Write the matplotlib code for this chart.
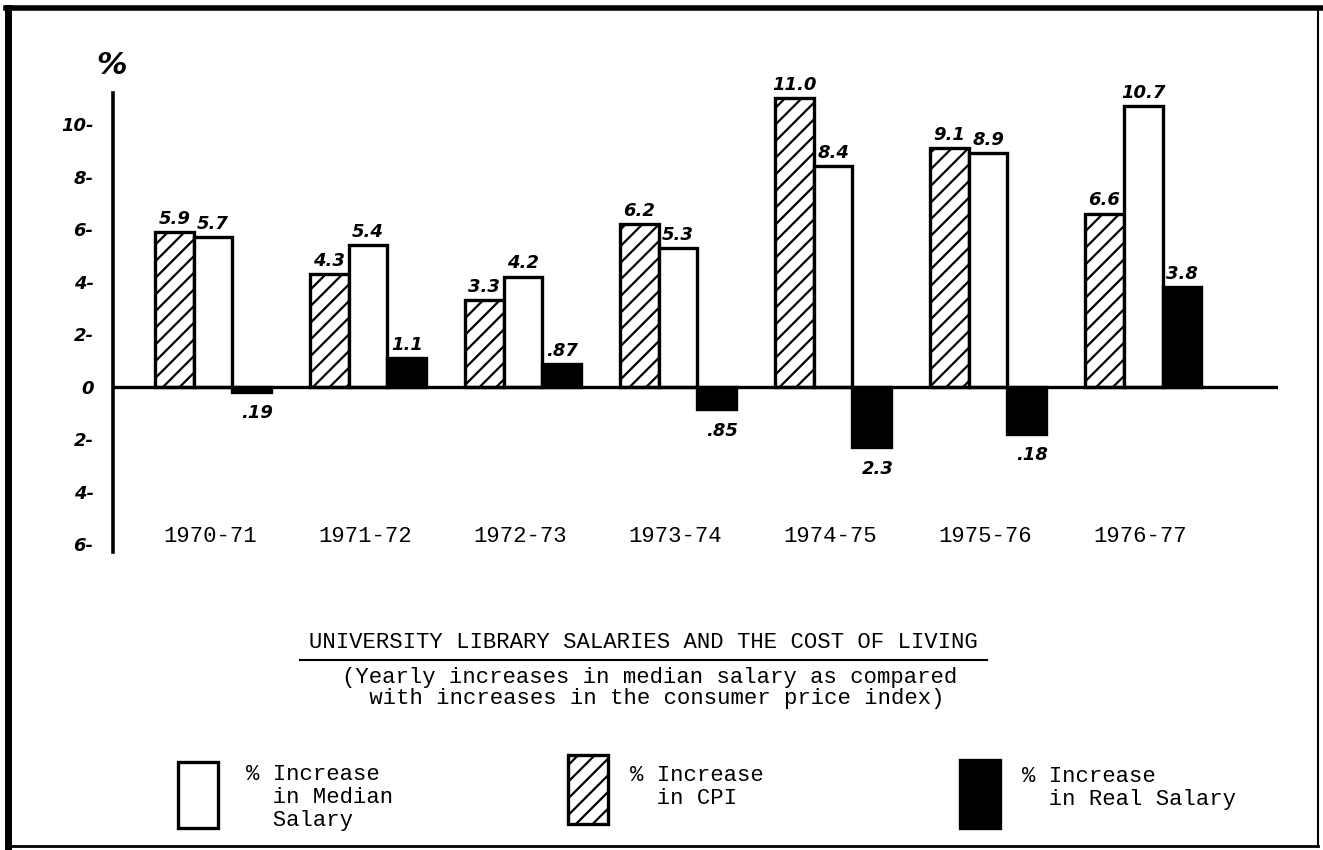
import matplotlib
matplotlib.use("Agg")
import matplotlib.pyplot as plt
from matplotlib.patches import Rectangle
from matplotlib.lines import Line2D
import numpy as np

## Data
years = ["1970-71", "1971-72", "1972-73", "1973-74", "1974-75", "1975-76", "1976-77"]
cpi = [5.9, 4.3, 3.3, 6.2, 11.0, 9.1, 6.6]
median_salary = [5.7, 5.4, 4.2, 5.3, 8.4, 8.9, 10.7]
real_salary = [-0.19, 1.1, 0.87, -0.85, -2.3, -1.8, 3.8]

cpi_labels = ["5.9", "4.3", "3.3", "6.2", "11.0", "9.1", "6.6"]
median_labels = ["5.7", "5.4", "4.2", "5.3", "8.4", "8.9", "10.7"]
real_labels = [".19", "1.1", ".87", ".85", "2.3", ".18", "3.8"]

y_ticks = [-6, -4, -2, 0, 2, 4, 6, 8, 10]
y_tick_labels = ["6-", "4-", "2-", "0", "2-", "4-", "6-", "8-", "10-"]

title = "UNIVERSITY LIBRARY SALARIES AND THE COST OF LIVING"
subtitle = "(Yearly increases in median salary as compared\n with increases in the consumer price index)"

plt.rcParams["hatch.linewidth"] = 1.6
type_font = "Liberation Mono"
hand = dict(family="DejaVu Sans", style="italic", weight="bold")

fig = plt.figure(figsize=(13.23, 8.5), dpi=100)
ax = fig.add_axes([113/1323, 1 - 552/850, (1278 - 113)/1323, (552 - 93)/850])

x = np.arange(len(years))
w = 0.25
bar_kw = dict(width=w, edgecolor="black", linewidth=2.4)

b_cpi = ax.bar(x - w, cpi, facecolor="white", hatch="//", **bar_kw)
b_med = ax.bar(x, median_salary, facecolor="white", **bar_kw)
b_real = ax.bar(x + w, real_salary, facecolor="black", **bar_kw)

## Value labels written over / under each bar
for bars, labels in [(b_cpi, cpi_labels), (b_med, median_labels), (b_real, real_labels)]:
	for b, lab in zip(bars, labels):
		h = b.get_height()
		xc = b.get_x() + b.get_width()/2
		if h >= 0:
			ax.annotate(lab, (xc, h), xytext=(0, 3), textcoords="offset points",
				ha="center", va="bottom", fontsize=13, **hand)
		else:
			ax.annotate(lab, (xc, h), xytext=(4, -9), textcoords="offset points",
				ha="center", va="top", fontsize=13, **hand)

ax.axhline(0, color="black", linewidth=2.4, zorder=5)

for i, yr in enumerate(years):
	ax.text(i - 0.02, -5.72, yr, ha="center", va="center", fontsize=16, family=type_font)

ax.set_xlim(-0.645, 6.87)
ax.set_ylim(-6.3, 11.2)
ax.set_yticks(y_ticks)
ax.set_yticklabels(y_tick_labels, fontsize=13, **hand)
ax.tick_params(axis="y", length=0, pad=14)
ax.set_xticks([])
for s in ["top", "right", "bottom"]:
	ax.spines[s].set_visible(False)
ax.spines["left"].set_linewidth(2.6)
ax.patch.set_alpha(0)

fig.text(112/1323, 1 - 66/850, "%", ha="center", va="center", fontsize=22, **hand)

## Title block
fig.text(643/1323, 1 - 643/850, title, ha="center", va="center", fontsize=16, family=type_font)
fig.add_artist(Line2D([300/1323, 987/1323], [1 - 660/850, 1 - 660/850], color="black", linewidth=1.5))
fig.text(650/1323, 1 - 688/850, subtitle, ha="center", va="center", fontsize=16,
	family=type_font, linespacing=1.05)

## Legend drawn by hand
fig.add_artist(Rectangle((178/1323, 1 - 828/850), 40/1323, 66/850, facecolor="white",
	edgecolor="black", linewidth=2.4, transform=fig.transFigure))
fig.add_artist(Rectangle((568/1323, 1 - 824/850), 40/1323, 69/850, facecolor="white",
	edgecolor="black", linewidth=2.4, hatch="//", transform=fig.transFigure))
fig.add_artist(Rectangle((960/1323, 1 - 828/850), 40/1323, 68/850, facecolor="black",
	edgecolor="black", linewidth=2.4, transform=fig.transFigure))

fig.text(246/1323, 1 - 764/850, "% Increase\n  in Median\n  Salary", ha="left", va="top",
	fontsize=16, family=type_font, linespacing=1.12)
fig.text(630/1323, 1 - 765/850, "% Increase\n  in CPI", ha="left", va="top",
	fontsize=16, family=type_font, linespacing=1.12)
fig.text(1022/1323, 1 - 766/850, "% Increase\n  in Real Salary", ha="left", va="top",
	fontsize=16, family=type_font, linespacing=1.12)

## Page frame
fig.add_artist(Line2D([8/1323, 8/1323], [1 - 8/850, 1 - 848/850], color="black", linewidth=5))
fig.add_artist(Line2D([6/1323, 1], [1 - 8/850, 1 - 8/850], color="black", linewidth=4))
fig.add_artist(Line2D([1318/1323, 1318/1323], [1 - 10/850, 1 - 845/850], color="black", linewidth=1.5))
fig.add_artist(Line2D([6/1323, 1318/1323], [1 - 846/850, 1 - 846/850], color="black", linewidth=2))

fig.savefig("out.png", dpi=100)
